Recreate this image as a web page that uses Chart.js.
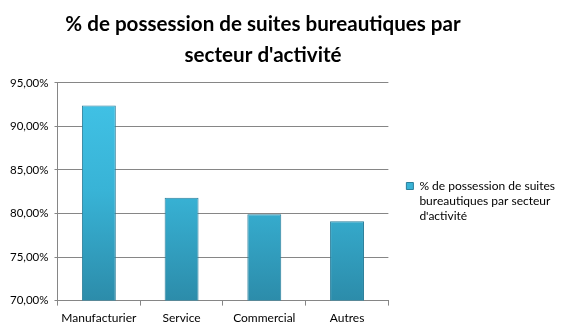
<!DOCTYPE html>
<html>
<head>
<meta charset="utf-8">
<script src="https://cdn.jsdelivr.net/npm/chart.js@4/dist/chart.umd.min.js"></script>
<style>
  html, body { margin: 0; padding: 0; background: #fff; }
  #wrap { width: 570px; height: 330px; position: relative; }
</style>
</head>
<body>
<div id="wrap"><canvas id="chart"></canvas></div>
<script>
// Data
const categories = ['Manufacturier', 'Service', 'Commercial', 'Autres'];
const values = [92.4, 81.8, 79.9, 79.1];
const seriesLabel = "% de possession de suites bureautiques par secteur d'activité";
const legendLines = ['% de possession de suites', 'bureautiques par secteur', "d'activité"];
const titleLines = ['% de possession de suites bureautiques par', "secteur d'activité"];
const yMin = 70;
const yMax = 95;
const yStep = 5;

const fontFamily = 'Lato, "Open Sans", sans-serif';
const titleRightInset = 48; // title is centred a bit left of the canvas middle

function formatPct(v) {
  return v.toFixed(2).replace('.', ',') + '%';
}

function barFill(ctx) {
  const area = ctx.chart.chartArea;
  if (!area) return '#36b0d4';
  const g = ctx.chart.ctx.createLinearGradient(0, area.top, 0, area.bottom);
  g.addColorStop(0, '#42c4e8');
  g.addColorStop(0.5, '#38b3d6');
  g.addColorStop(1, '#2c8caa');
  return g;
}

// shift the title box so it is centred like the original
const titleShift = {
  id: 'titleShift',
  afterLayout(chart) {
    if (chart.titleBlock) chart.titleBlock.right = chart.width - titleRightInset;
  },
};

new Chart(document.getElementById('chart'), {
  type: 'bar',
  data: {
    labels: categories,
    datasets: [{
      label: seriesLabel,
      data: values,
      backgroundColor: barFill,
      borderColor: '#2a7e9a',
      borderWidth: 1,
      borderSkipped: 'bottom',
      categoryPercentage: 1,
      barPercentage: 0.41,
    }],
  },
  options: {
    responsive: true,
    maintainAspectRatio: false,
    animation: false,
    layout: { padding: { left: 4, right: 5, bottom: 0 } },
    plugins: {
      title: {
        display: true,
        text: titleLines,
        color: '#000',
        font: { family: fontFamily, size: 20.6, weight: 'bold', lineHeight: 1.5 },
        padding: { top: 9, bottom: 12 },
      },
      legend: {
        position: 'right',
        align: 'start',
        maxWidth: 190,
        // empty legend title used as a spacer to drop the entry beside the plot
        title: { display: true, text: '', font: { size: 12, lineHeight: 1 }, padding: { top: 150, bottom: 0 } },
        labels: {
          color: '#000',
          font: { family: fontFamily, size: 12, lineHeight: 1.25 },
          boxWidth: 7,
          boxHeight: 7,
          padding: 18,
          generateLabels: chart => {
            const items = Chart.defaults.plugins.legend.labels.generateLabels(chart);
            items.forEach(it => {
              it.text = legendLines;
              it.fillStyle = '#38b3d6';
              it.strokeStyle = '#2a7e9a';
              it.lineWidth = 1;
            });
            return items;
          },
        },
      },
      tooltip: { enabled: false },
    },
    scales: {
      x: {
        grid: { drawOnChartArea: false, drawTicks: true, tickLength: 5, color: '#868686' },
        border: { color: '#868686' },
        ticks: { color: '#000', font: { family: fontFamily, size: 12 }, padding: 5 },
      },
      y: {
        min: yMin,
        max: yMax,
        grid: { color: '#868686', tickLength: 3 },
        border: { color: '#868686' },
        ticks: {
          stepSize: yStep,
          color: '#000',
          font: { family: fontFamily, size: 11.5 },
          padding: 6,
          callback: v => formatPct(v),
        },
      },
    },
  },
  plugins: [titleShift],
});
</script>
</body>
</html>
